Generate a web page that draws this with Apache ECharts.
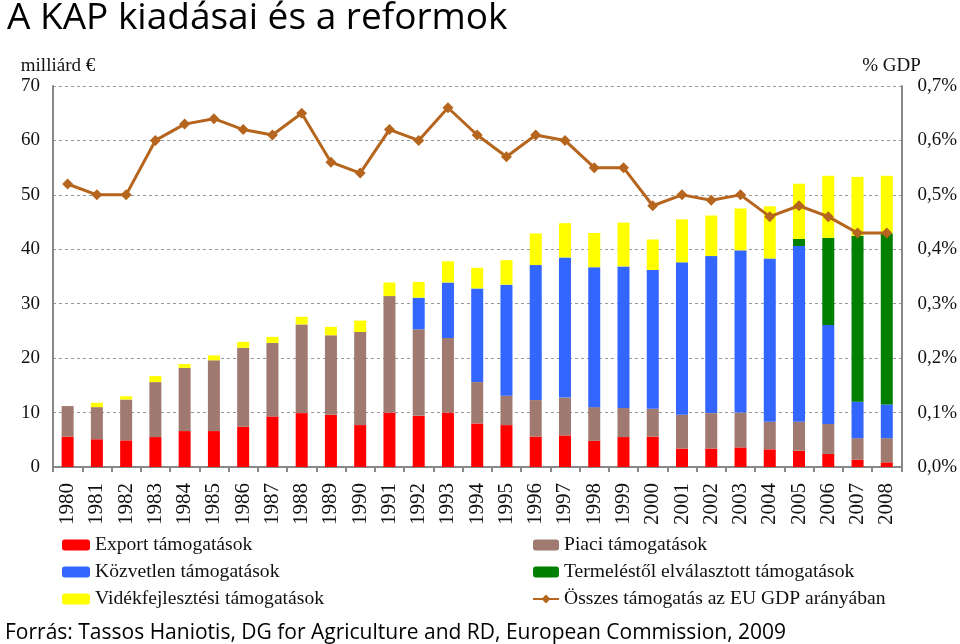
<!DOCTYPE html>
<html>
<head>
<meta charset="utf-8">
<script src="https://cdn.jsdelivr.net/npm/echarts@6/dist/echarts.min.js"></script>
<style>html,body{margin:0;padding:0;background:#fff;}#c{width:960px;height:644px;}</style>
</head>
<body>
<div id="c"></div>
<script>
const years = ['1980','1981','1982','1983','1984','1985','1986','1987','1988','1989','1990','1991','1992','1993','1994','1995','1996','1997','1998','1999','2000','2001','2002','2003','2004','2005','2006','2007','2008'];
const exportSupport = [5.6,5.1,4.9,5.5,6.6,6.6,7.4,9.3,9.9,9.6,7.7,10.0,9.4,10.0,8.0,7.7,5.6,5.8,4.8,5.5,5.6,3.4,3.4,3.6,3.25,3.0,2.4,1.35,0.86];
const marketSupport = [5.6,5.9,7.5,10.1,11.6,13.0,14.5,13.5,16.3,14.6,17.1,21.4,15.9,13.7,7.6,5.4,6.7,6.95,6.2,5.35,5.1,6.2,6.5,6.4,5.05,5.3,5.5,3.95,4.44];
const directSupport = [0,0,0,0,0,0,0,0,0,0,0,0,5.8,10.2,17.2,20.4,24.8,25.75,25.7,26.0,25.5,28.0,28.85,29.8,30.0,32.3,18.2,6.7,6.2];
const decoupledSupport = [0,0,0,0,0,0,0,0,0,0,0,0,0,0,0,0,0,0,0,0,0,0,0,0,0,1.3,16.0,30.5,31.4];
const ruralSupport = [0,0.8,0.6,1.1,0.7,0.9,1.1,1.1,1.4,1.55,2.1,2.5,2.9,3.9,3.8,4.5,5.8,6.3,6.3,8.05,5.6,7.9,7.45,7.7,9.6,10.15,11.4,10.8,10.6];
const gdpShare = [0.52,0.50,0.50,0.60,0.63,0.64,0.62,0.61,0.65,0.56,0.54,0.62,0.60,0.66,0.61,0.57,0.61,0.60,0.55,0.55,0.48,0.50,0.49,0.50,0.46,0.48,0.46,0.43,0.43];

const names = ['Export támogatások','Piaci támogatások','Közvetlen támogatások','Termeléstől elválasztott támogatások','Vidékfejlesztési támogatások','Összes támogatás az EU GDP arányában'];
const colors = ['#ff0000','#a07a70','#3366ff','#008000','#ffff00','#b5651d'];

const serif = '"Liberation Serif", "DejaVu Serif", serif';
const chart = echarts.init(document.getElementById('c'), null, {renderer:'canvas'});

function bar(i, data){
  return {name:names[i], type:'bar', stack:'total', data:data, barWidth:12,
    itemStyle:{color:colors[i]}, emphasis:{disabled:true}};
}
const legendText = {fontFamily:serif, fontSize:19.6, color:'#111'};

chart.setOption({
  animation:false,
  backgroundColor:'#fff',
  title:[
    {text:'A KAP kiadásai és a reformok', left:2, top:-5,
     textStyle:{fontFamily:'"Open Sans", sans-serif', fontSize:37, fontWeight:'normal', color:'#000'}},
    {text:'Forrás: Tassos Haniotis, DG for Agriculture and RD, European Commission, 2009', left:0, top:618,
     textStyle:{fontFamily:'"Open Sans", sans-serif', fontSize:21, fontWeight:'normal', color:'#000'}}
  ],
  legend:[
    {data:[names[0],names[2],names[4]], orient:'vertical', left:62, top:535, itemGap:7, padding:0,
     itemWidth:28, itemHeight:11, textStyle:legendText, itemStyle:{borderWidth:0}},
    {data:[names[1],names[3],names[5]], orient:'vertical', left:532, top:535, itemGap:7, padding:0,
     itemWidth:26, itemHeight:11, textStyle:legendText, itemStyle:{borderWidth:0}}
  ],
  grid:{left:53, right:58, top:86, bottom:177, containLabel:false},
  xAxis:{type:'category', data:years, boundaryGap:true,
    axisLine:{lineStyle:{color:'#888', width:2}},
    axisTick:{show:true, length:5, lineStyle:{color:'#888', width:2}},
    axisLabel:{rotate:90, margin:16, fontFamily:serif, fontSize:21, color:'#111', interval:0}},
  yAxis:[
    {type:'value', min:0, max:70, interval:10, name:'milliárd €', nameLocation:'end', nameGap:10,
     nameTextStyle:{fontFamily:serif, fontSize:19, color:'#111', padding:[0,0,0,10]},
     axisLine:{show:true, lineStyle:{color:'#888', width:2}}, axisTick:{show:false},
     axisLabel:{margin:13, fontFamily:serif, fontSize:19, color:'#111'},
     splitLine:{show:true, lineStyle:{color:'#999', type:[3,3], width:1}}},
    {type:'value', min:0, max:0.7, interval:0.1, name:'% GDP', nameLocation:'end', nameGap:10,
     nameTextStyle:{fontFamily:serif, fontSize:19, color:'#111', padding:[0,20,0,0]},
     axisLine:{show:true, lineStyle:{color:'#888', width:2}}, axisTick:{show:false},
     axisLabel:{margin:16, fontFamily:serif, fontSize:19, color:'#111',
       formatter:v=>v.toFixed(1).replace('.',',')+'%'},
     splitLine:{show:false}}
  ],
  series:[
    bar(0, exportSupport), bar(1, marketSupport), bar(2, directSupport), bar(3, decoupledSupport), bar(4, ruralSupport),
    {name:names[5], type:'line', yAxisIndex:1, data:gdpShare, symbol:'diamond', symbolSize:11,
     lineStyle:{color:colors[5], width:3}, itemStyle:{color:colors[5]}, emphasis:{disabled:true}, z:5}
  ]
});
</script>
</body>
</html>
